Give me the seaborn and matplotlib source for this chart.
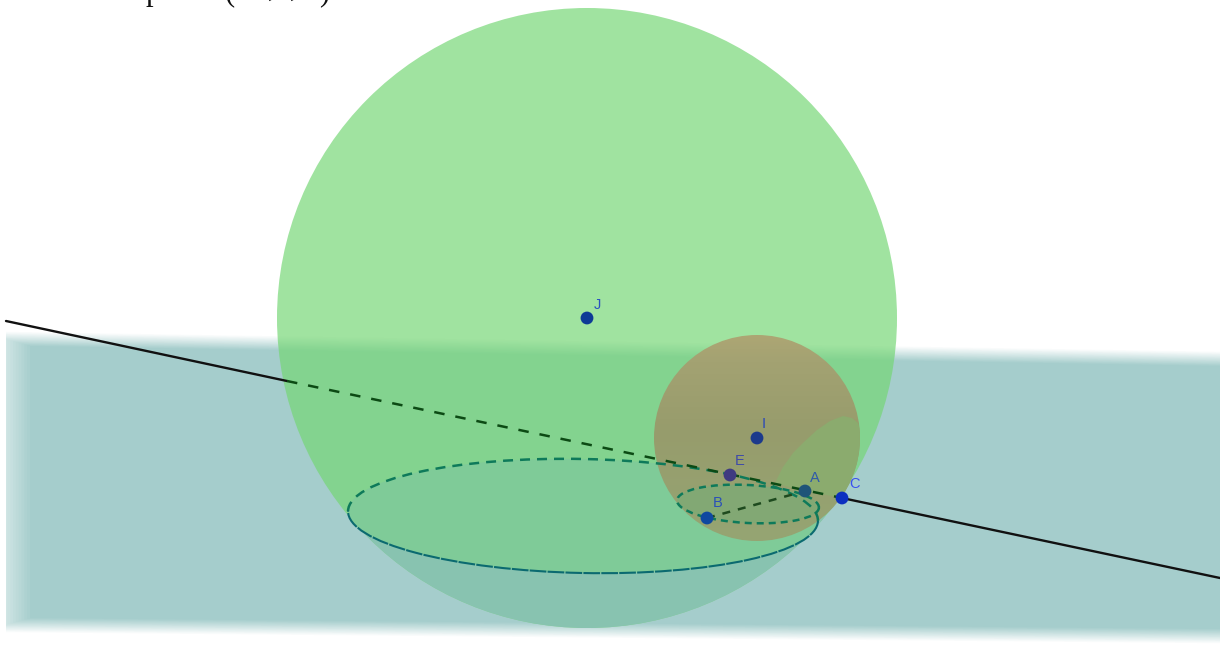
import numpy as np
import pandas as pd
import matplotlib
matplotlib.use("Agg")
import matplotlib.pyplot as plt
from matplotlib.patches import Circle, Ellipse, Arc, Polygon, Rectangle
from matplotlib.colors import to_rgb
import seaborn as sns

point_names = ["J", "I", "E", "A", "B", "C"]
point_x = [587, 757, 730, 805, 707, 842]
point_y = [318, 438, 475, 491, 518, 498]
point_colors = ["#0E3A96", "#1C3A8C", "#3F3A80", "#1F5478", "#0E48A0", "#0B2FC0"]
label_x = [597, 764, 740, 815, 718, 854]
label_y = [305, 424, 461, 478, 503, 484]
label_colors = ["#2A50C0", "#2A48B8", "#3F4AA8", "#2F5AA8", "#2A50B8", "#3A50F0"]

line_left_x, line_left_y = [6, 287], [321, 381]
line_mid_x, line_mid_y = [287, 842], [381, 498]
line_right_x, line_right_y = [842, 1220], [498, 578]
seg_ab_x, seg_ab_y = [707, 805], [518, 491]

big_sphere = (587, 318, 310)
small_sphere = (757, 438, 103)
big_circle = (583, 516, 235, 57, 1.2)
small_circle = (748, 504, 71, 19, 3.0)

plane_top_left, plane_top_right = 331, 351
plane_bot_left, plane_bot_right = 633, 644
lens_x = [775, 783, 793, 805, 817, 830, 843, 852, 858, 866, 860, 842, 800]
lens_y = [483, 467, 453, 441, 430, 421, 416, 418, 423, 445, 480, 498, 490]

head_text = ["p", "(", ",", ",", ")"]
head_x = [153, 230, 272, 294, 324]
head_y = [0, 0, -4, -4, 0]

shade_y = [335, 362, 430, 541]
shade_colors = ["#ADA674", "#A3A272", "#979C6C", "#95A573"]

sns.set_theme(style="white")
plt.rcParams["font.family"] = ["Liberation Sans", "DejaVu Sans"]
fig = plt.figure(figsize=(12.2, 6.47), dpi=100)
ax = fig.add_axes([0, 0, 1, 1])
ax.axis("off")

plane = np.array(to_rgb("#A5CDCC"))
white = np.ones(3)
for t in np.linspace(0, 1, 20):
    left = 6 + 24 * max(t - 0.55, 0) / 0.45
    poly = [(left, plane_top_left + 15 * t), (1221, plane_top_right + 15 * t),
            (1221, plane_bot_right - 15 * t), (left, plane_bot_left - 15 * t)]
    ax.add_patch(Polygon(poly, closed=True, fc=white + (plane - white) * t, ec="none", zorder=1))

bx, by, br = big_sphere
ax.add_patch(Circle((bx, by), br, fc=(115 / 255, 214 / 255, 115 / 255), alpha=0.68, ec="none", zorder=2))
clip = Circle((bx, by), br, transform=ax.transData)
cap = Rectangle((0, big_circle[1]), 1220, 200, fc="#88C3B0", ec="none", zorder=3)
ax.add_patch(cap)
cap.set_clip_path(clip)

cx, cy, ca, cb, ct = big_circle
ax.add_patch(Ellipse((cx, cy), 2 * ca, 2 * cb, angle=ct, fc="#7FCB98", ec="none", zorder=4))

sx, sy, sa, sb, st = small_circle
ix, iy, ir = small_sphere
rows = np.arange(shade_y[0], shade_y[-1] + 1)
rgb = np.array([to_rgb(c) for c in shade_colors])
grad = np.stack([np.interp(rows, shade_y, rgb[:, k]) for k in range(3)], axis=1)[:, None, :]
im = ax.imshow(grad, extent=(ix - ir, ix + ir, shade_y[-1], shade_y[0]), aspect="auto", zorder=5,
               interpolation="bilinear")
im.set_clip_path(Circle((ix, iy), ir, transform=ax.transData))
lens = Polygon(np.column_stack([lens_x, lens_y]), closed=True, fc="#8BAB6E", ec="none", zorder=6)
ax.add_patch(lens)
lens.set_clip_path(Circle((ix, iy), ir, transform=ax.transData))
ax.add_patch(Ellipse((sx, sy), 2 * sa, 2 * sb, angle=st, fc="#82A874", ec="none", zorder=6.5))

ax.add_patch(Arc((cx, cy), 2 * ca, 2 * cb, angle=ct, theta1=180, theta2=360, ec="#0E7A5A", lw=1.8,
                 ls=(0, (4, 2.8)), zorder=7))
ax.add_patch(Arc((cx, cy), 2 * ca, 2 * cb, angle=ct, theta1=0, theta2=180, ec="#0B6A70", lw=1.5,
                 ls=(0, (8, 0.6)), zorder=7))
ax.add_patch(Arc((sx, sy), 2 * sa, 2 * sb, angle=st, theta1=0, theta2=360, ec="#0E7A5A", lw=1.8,
                 ls=(0, (2.8, 2)), zorder=7))

sns.lineplot(x=line_left_x, y=line_left_y, sort=False, estimator=None, color="#111111", lw=1.7, ax=ax, zorder=8)
sns.lineplot(x=line_right_x, y=line_right_y, sort=False, estimator=None, color="#111111", lw=1.7, ax=ax, zorder=8)
sns.lineplot(x=line_mid_x, y=line_mid_y, sort=False, estimator=None, color="#0C4A14", lw=1.8, ls=(0, (4.2, 4.4)), ax=ax, zorder=8)
sns.lineplot(x=seg_ab_x, y=seg_ab_y, sort=False, estimator=None, color="#1E4A1E", lw=1.8, ls=(0, (3.2, 3.2)), ax=ax, zorder=8)

points = pd.DataFrame({"x": point_x, "y": point_y, "name": point_names})
sns.scatterplot(data=points, x="x", y="y", hue="name", palette=dict(zip(point_names, point_colors)),
                s=85, linewidth=0, legend=False, ax=ax, zorder=9)
for n, x, y, c in zip(point_names, label_x, label_y, label_colors):
    ax.text(x, y, n, color=c, fontsize=10.5, ha="center", va="center", zorder=10)

for s, x, y in zip(head_text, head_x, head_y):
    ax.text(x, y, s, family=["Liberation Serif"], fontsize=22, color="#111111", ha="center",
            va="baseline", zorder=10)

ax.set_xlim(0, 1220)
ax.set_ylim(647, 0)
ax.set_xlabel("")
ax.set_ylabel("")
fig.savefig("out.png", dpi=100)
